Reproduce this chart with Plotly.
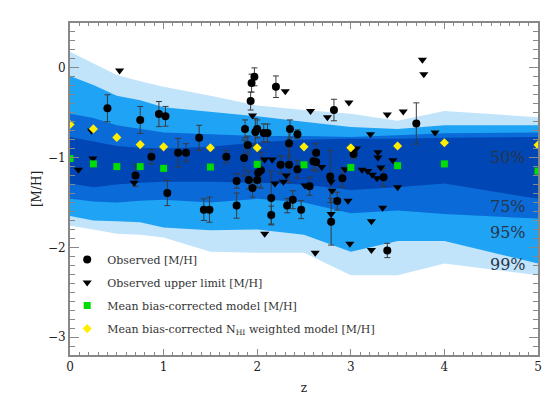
import plotly.graph_objects as go

# ---- model bands (redshift grid) ----
z_model = [0, 0.25, 0.5, 0.75, 1, 1.5, 2, 2.5, 3, 3.5, 4, 5]
p99_hi = [0.18, 0.05, -0.08, -0.15, -0.21, -0.31, -0.42, -0.47, -0.51, -0.59, -0.48, -0.55]
p95_hi = [-0.09, -0.19, -0.31, -0.36, -0.44, -0.49, -0.54, -0.60, -0.66, -0.68, -0.64, -0.64]
p75_hi = [-0.51, -0.56, -0.64, -0.68, -0.72, -0.74, -0.76, -0.76, -0.77, -0.75, -0.73, -0.72]
p50_hi = [-0.77, -0.82, -0.87, -0.89, -0.90, -0.88, -0.83, -0.80, -0.79, -0.79, -0.78, -0.77]
p50_lo = [-1.29, -1.33, -1.30, -1.28, -1.27, -1.27, -1.28, -1.30, -1.36, -1.33, -1.29, -1.46]
p75_lo = [-1.46, -1.49, -1.50, -1.48, -1.47, -1.50, -1.46, -1.50, -1.62, -1.59, -1.63, -1.68]
p95_lo = [-1.65, -1.70, -1.71, -1.72, -1.78, -1.81, -1.80, -1.86, -2.05, -1.93, -1.93, -2.18]
p99_lo = [-1.76, -1.80, -1.85, -1.86, -1.89, -2.05, -2.06, -2.06, -2.31, -2.31, -2.18, -2.31]

# mean bias-corrected model and NHI weighted model
model_mean = [-1.01, -1.07, -1.10, -1.10, -1.12, -1.105, -1.075, -1.08, -1.11, -1.09, -1.07, -1.15]
model_nhi = [-0.63, -0.68, -0.775, -0.855, -0.88, -0.89, -0.89, -0.88, -0.89, -0.87, -0.835, -0.86]

# ---- observed detections ----
obs_z = [0.40, 0.75, 0.95, 1.02, 0.87, 0.70, 1.04, 1.155, 1.24, 1.38, 1.43, 1.49,
         1.67, 1.78, 1.78, 1.87, 1.86, 1.90, 1.91, 1.93, 1.94, 1.97, 1.95, 1.98,
         2.00, 2.00, 2.01, 2.04, 2.07, 2.11, 2.15, 2.15, 2.20, 2.25, 2.32, 2.34,
         2.35, 2.34, 2.38, 2.43, 2.43, 2.47, 2.56, 2.60, 2.63, 2.63, 2.78, 2.79,
         2.82, 2.855, 2.91, 3.03, 3.35, 3.39, 3.70]
obs_mh = [-0.45, -0.58, -0.515, -0.54, -0.99, -1.20, -1.395, -0.945, -0.945, -0.78, -1.58, -1.58,
          -0.99, -1.26, -1.535, -0.68, -1.005, -0.86, -1.25, -0.37, -0.17, -0.10, -1.34, -0.715,
          -0.68, -1.25, -1.17, -1.14, -0.725, -0.725, -1.45, -1.64, -0.21, -1.08, -1.535, -1.08,
          -0.68, -0.84, -1.47, -0.74, -1.13, -1.58, -1.32, -1.04, -1.05, -0.945, -1.21, -1.715,
          -0.47, -1.485, -1.23, -0.96, -1.22, -2.035, -0.62]
obs_err = [0.15, 0.15, 0.14, 0.11, 0.08, 0.12, 0.14, 0.16, 0.10, 0.14, 0.12, 0.14,
           0.07, 0.08, 0.14, 0.10, 0.20, 0.10, 0.10, 0.10, 0.10, 0.10, 0.10, 0.15,
           0.10, 0.08, 0.10, 0.20, 0.10, 0.10, 0.30, 0.10, 0.12, 0.10, 0.08, 0.20,
           0.10, 0.15, 0.10, 0.05, 0.10, 0.10, 0.10, 0.10, 0.10, 0.10, 0.29, 0.26,
           0.12, 0.10, 0.10, 0.05, 0.10, 0.08, 0.23]

# ---- observed upper limits ----
lim_z = [0.09, 0.23, 0.245, 0.53, 0.685, 1.95, 2.08, 2.08, 2.16, 2.19, 2.28, 2.30,
         2.31, 2.51, 2.57, 2.62, 2.69, 2.75, 2.79, 2.80, 2.79, 2.94, 2.97, 2.98,
         2.99, 3.06, 3.12, 3.18, 3.21, 3.22, 3.22, 3.23, 3.28, 3.29, 3.29, 3.32,
         3.34, 3.39, 3.45, 3.50, 3.56, 3.765, 3.78, 3.90]
lim_mh = [-1.135, -0.70, -1.01, -0.03, -1.28, -0.53, -1.02, -1.85, -1.02, -1.29, -1.27, -0.26,
          -1.20, -1.31, -0.48, -2.06, -1.105, -0.55, -1.27, -1.37, -1.63, -1.13, -1.48, -0.385,
          -1.96, -0.90, -1.135, -1.15, -0.74, -1.71, -2.03, -1.19, -1.23, -0.94, -1.00, -1.11,
          -1.56, -0.52, -1.03, -1.33, -0.485, 0.09, -0.07, -0.72]

band_labels = ["50%", "75%", "95%", "99%"]
band_label_y = [-0.995, -1.54, -1.84, -2.19]
band_label_z = 4.68

band_colors = ["#c2e4fb", "#1fa3f5", "#0a6bd8", "#0046b4"]
FONT = "DejaVu Serif"

fig = go.Figure()

bands = [(p99_hi, p99_lo), (p95_hi, p95_lo), (p75_hi, p75_lo), (p50_hi, p50_lo)]
for (hi, lo), col in zip(bands, band_colors):
    fig.add_trace(go.Scatter(
        x=z_model + z_model[::-1], y=hi + lo[::-1],
        fill="toself", fillcolor=col, mode="lines",
        line=dict(width=0, color=col), showlegend=False, hoverinfo="skip"))

fig.add_trace(go.Scatter(
    x=obs_z, y=obs_mh, mode="markers", name="Observed [M/H]", legendgroup="a",
    marker=dict(symbol="circle", size=8, color="black"),
    error_y=dict(type="data", array=obs_err, visible=True, color="#3a3a3a",
                 thickness=1, width=3)))
fig.add_trace(go.Scatter(
    x=lim_z, y=lim_mh, mode="markers", name="Observed upper limit [M/H]", legendgroup="b",
    marker=dict(symbol="triangle-down", size=8, color="black")))
fig.add_trace(go.Scatter(
    x=z_model, y=model_mean, mode="markers", name="Mean bias-corrected model [M/H]",
    legendgroup="c",
    marker=dict(symbol="square", size=7, color="#00dd00")))
fig.add_trace(go.Scatter(
    x=z_model, y=model_nhi, mode="markers",
    name="Mean bias-corrected N<sub>HI</sub> weighted model [M/H]", legendgroup="d",
    marker=dict(symbol="diamond", size=7, color="#ffee00")))

for lab, yy in zip(band_labels, band_label_y):
    fig.add_annotation(x=band_label_z, y=yy, text=lab, showarrow=False,
                       font=dict(family=FONT, size=16, color="#26364a"))

axis_common = dict(
    showline=True, linecolor="#888888", linewidth=2, mirror="allticks",
    ticks="inside", tickcolor="#888888", showgrid=False, zeroline=False,
    tickfont=dict(family=FONT, size=12, color="#222222"),
)
fig.update_xaxes(range=[0, 5], dtick=1, tick0=0, ticklen=6,
                 minor=dict(dtick=0.1, ticklen=3, ticks="inside", tickcolor="#888888"),
                 title=dict(text="z", font=dict(family=FONT, size=12, color="#222222"), standoff=10),
                 **axis_common)
fig.update_yaxes(range=[-3.2, 0.5], dtick=1, tick0=0, ticklen=9,
                 minor=dict(dtick=0.1, ticklen=5, ticks="inside", tickcolor="#888888"),
                 title=dict(text="[M/H]", font=dict(family=FONT, size=12, color="#222222"), standoff=4),
                 **axis_common)

fig.update_layout(
    width=560, height=400,
    margin=dict(l=62, r=30, t=15, b=53),
    paper_bgcolor="white", plot_bgcolor="white",
    font=dict(family=FONT, size=11, color="#222222"),
    legend=dict(x=-0.006, y=0.331, xanchor="left", yanchor="top",
                bgcolor="rgba(0,0,0,0)", traceorder="grouped", tracegroupgap=4,
                itemwidth=30, font=dict(family=FONT, size=11, color="#333333")),
)

fig.write_html("out.html")
